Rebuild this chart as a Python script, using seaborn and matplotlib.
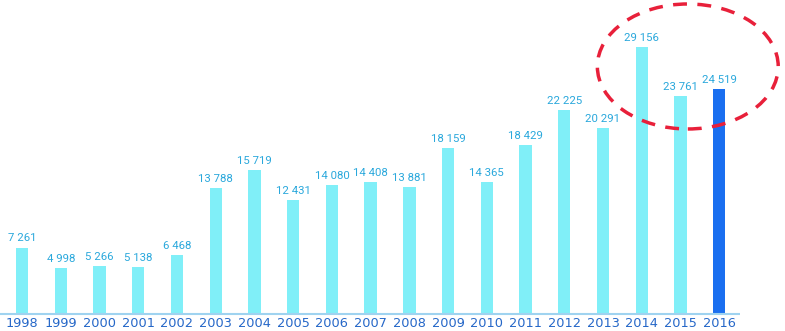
import matplotlib
matplotlib.use("Agg")
import matplotlib.pyplot as plt
from matplotlib.patches import Ellipse
import seaborn as sns
import pandas as pd

years = ["1998", "1999", "2000", "2001", "2002", "2003", "2004", "2005", "2006", "2007",
         "2008", "2009", "2010", "2011", "2012", "2013", "2014", "2015", "2016"]
values = [7261, 4998, 5266, 5138, 6468, 13788, 15719, 12431, 14080, 14408,
          13881, 18159, 14365, 18429, 22225, 20291, 29156, 23761, 24519]
highlight = "2016"

light = "#80eff8"
dark = "#1a6ff0"
val_color = "#2aa8dc"
year_color = "#2567c8"

df = pd.DataFrame({"year": years, "value": values})
palette = {y: (dark if y == highlight else light) for y in years}

sns.set_style("white")
plt.rcParams['font.family'] = ['DejaVu Sans']

fig = plt.figure(figsize=(7.85, 3.31), dpi=100)
ax = fig.add_axes([0, 0, 1, 1])
sns.barplot(data=df, x="year", y="value", hue="year", palette=palette,
            width=0.32, legend=False, ax=ax, saturation=1, dodge=False,
            linewidth=0, edgecolor="none")

for cont in ax.containers:
    ax.bar_label(cont, labels=[f"{v:,.0f}".replace(",", " ") for v in cont.datavalues],
                 padding=3, fontsize=8.2, color=val_color, family=["Roboto", "DejaVu Sans"])

ax.set_xlim(-0.57, 19.7)
ax.set_ylim(-1856, 34290)
ax.hlines(0, -0.6, 18.55, color="#9fd3f0", lw=1.5, zorder=3)

for i, y in enumerate(years):
    ax.text(i, -1050, y, ha="center", va="center", fontsize=9.3, color=year_color)

ax.add_patch(Ellipse((17.19, 27030), 4.67, 13650, fill=False, edgecolor="#e8203a",
                     lw=2.5, linestyle=(0, (4, 3)), zorder=5))

ax.set_xlabel("")
ax.set_ylabel("")
ax.set_xticks([])
ax.set_yticks([])
for s in ax.spines.values():
    s.set_visible(False)

fig.savefig("out.png", dpi=100)
